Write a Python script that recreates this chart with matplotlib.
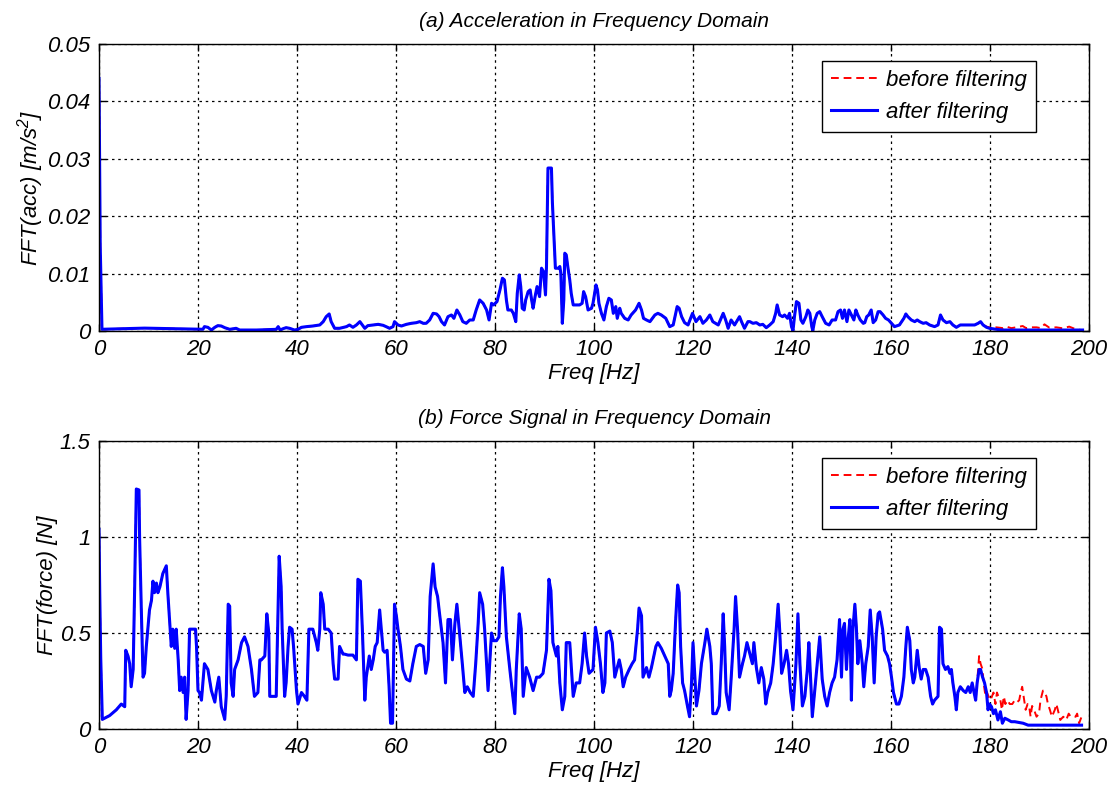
import numpy as np
import matplotlib
matplotlib.use("Agg")
import matplotlib.pyplot as plt

# (a) acceleration spectrum, after filtering -- values in 1e-3 m/s^2
acc_freq = [0.0, 0.25, 0.6, 9.2, 21.0, 21.3, 22.0, 22.7, 23.4, 24.0, 24.7, 25.4, 26.4, 27.7, 28.4,
            29.8, 31.8, 35.8, 36.2, 36.6, 37.2, 37.8, 38.5, 39.5, 40.2, 40.9, 41.9, 43.2, 44.6, 45.3,
            45.9, 46.5, 46.9, 47.6, 48.6, 50.0, 50.6, 51.3, 52.0, 52.7, 53.2, 53.7, 54.3, 55.4, 56.4,
            57.4, 58.0, 58.7, 59.4, 59.7, 60.4, 61.1, 62.1, 63.1, 64.1,
            64.8, 65.5, 66.1, 66.8, 67.5, 68.2, 68.7, 69.2, 69.8, 70.5, 71.2, 71.7, 72.3, 72.9, 73.5,
            74.2, 74.9, 75.6, 76.2, 76.9, 77.6, 78.3, 78.8, 79.3, 79.7, 80.4, 81.0, 81.5, 81.9, 82.3,
            82.6, 83.3, 83.7, 84.2, 84.5, 84.9, 85.2, 85.5, 85.9, 86.2, 86.7, 87.1, 87.4, 87.7, 88.1,
            88.5, 89.0, 89.4, 89.8, 90.2, 90.4, 90.7, 91.4, 91.6, 91.9, 92.2, 92.8, 93.1, 93.3, 93.6,
            93.9, 94.1, 94.4, 94.7, 95.1, 95.4, 95.8, 97.1, 97.6, 97.9, 98.3, 98.8, 99.5, 99.8, 100.4,
            100.7, 101.0, 101.5, 102.0, 102.5, 103.0, 103.5, 103.9, 104.4, 104.7, 105.2, 105.5, 106.2,
            106.9, 107.5, 108.4, 109.1, 109.6, 110.0, 110.6, 111.3, 112.3, 112.9, 113.6, 114.5, 115.3,
            116.0, 116.8, 117.2, 117.7, 118.3, 119.0, 119.9, 120.6, 121.4, 122.0, 122.7, 123.4, 124.0,
            125.1, 126.1, 126.6, 127.1, 127.7, 128.4, 129.4, 129.8, 130.4, 131.1,
            131.5, 132.1, 132.8, 133.5, 134.1, 134.8, 135.5, 136.2, 136.7, 137.0, 137.5, 138.1, 138.5,
            139.1, 139.5, 139.9, 140.2, 140.5, 140.9, 141.4, 141.8, 142.2, 142.8, 143.2, 143.6, 144.0,
            144.2, 144.6, 145.1, 145.6, 146.1, 146.8, 147.5, 148.1, 148.8, 149.3, 149.8, 150.2, 150.6,
            151.1, 151.5, 152.0, 152.5, 152.9, 153.3, 153.8, 154.4, 154.7, 155.1, 155.5, 156.0, 156.4,
            156.9, 157.4, 157.8, 158.4, 158.9, 159.5, 160.1, 160.7, 161.7, 162.6, 163.0, 163.4, 164.1,
            164.8, 165.3, 165.8, 166.5, 167.1, 167.8, 168.8, 169.5, 170.0, 170.5, 171.2, 171.9, 172.5,
            173.2, 174.0, 174.9, 175.9, 176.9, 177.6, 178.1, 178.6, 179.3, 179.9, 181.3, 182.6, 185.3,
            190.0, 195.4, 198.7]
acc_after = [44.0, 14.7, 0.3, 0.5, 0.3, 0.76, 0.64, 0.17, 0.64, 0.93, 0.87, 0.58, 0.29, 0.47, 0.17,
             0.17, 0.17, 0.29, 0.76, 0.17, 0.41, 0.58, 0.47, 0.17, 0.29, 0.64, 0.76, 0.87, 1.05, 1.63,
             2.5, 2.97, 1.63, 0.47, 0.47, 0.76, 1.05, 0.64, 1.05, 1.63, 1.05, 0.47, 0.93, 1.05, 1.16,
             0.99, 0.76, 0.47, 0.76, 1.63, 1.05, 0.87, 1.16, 1.34, 1.45,
             1.63, 1.34, 1.34, 1.92, 3.08, 2.97, 2.5, 1.63, 1.05, 2.5, 2.79, 2.21, 3.66, 2.79, 1.63,
             1.34, 1.92, 1.92, 3.66, 5.41, 4.83, 3.66, 1.92, 4.83, 4.54, 5.12, 7.16, 9.19, 8.9, 5.41,
             3.66, 3.66, 3.08, 1.63, 6.57, 9.77, 7.74, 3.96, 3.66, 5.41, 6.86, 7.16, 5.41, 3.96, 5.99,
             7.74, 5.99, 10.94, 10.35, 6.28, 11.2, 28.39, 28.39, 22.28, 16.46, 10.94, 10.94, 11.23, 10.06, 1.34,
             5.41, 13.55, 13.26, 11.23, 8.9, 6.57, 4.54, 4.54, 4.83, 6.86, 5.99, 3.66, 3.96, 4.83, 8.03,
             7.16, 4.83, 3.08, 1.92, 4.25, 5.70, 5.41, 3.08, 4.25, 2.21, 3.96, 3.08, 2.21,
             1.92, 2.79, 3.66, 4.83, 3.66, 2.21, 1.92, 1.63, 2.79, 3.08, 2.79, 2.21, 0.76,
             1.05, 4.25, 3.96, 2.5, 1.45, 1.05, 3.08, 1.63, 2.5, 1.34, 1.92, 2.79, 1.63,
             1.05, 3.08, 1.92, 0.47, 1.92, 1.05, 2.5, 1.63, 0.47, 1.63,
             1.63, 1.34, 1.45, 1.05, 1.16, 0.58, 1.05, 1.63, 3.08, 4.54, 2.79, 2.5, 2.79,
             2.21, 3.08, 0.76, 0.06, 2.5, 5.12, 4.83, 1.92, 1.34, 2.5, 3.66, 3.08, 0.76,
             0.06, 1.92, 3.08, 3.37, 2.5, 1.34, 1.05, 1.92, 1.92, 3.37, 3.66, 2.21, 3.66,
             1.63, 3.66, 2.79, 1.92, 3.66, 2.79, 1.92, 1.34, 1.45, 2.5, 2.79, 3.66, 1.45,
             1.92, 3.37, 3.37, 2.79, 2.21, 1.92, 1.34, 0.76, 1.05, 2.21, 2.97, 2.5, 1.92,
             1.63, 1.92, 1.63, 1.34, 1.45, 1.05, 0.76, 1.05, 2.79, 1.92, 1.45, 1.63, 1.05,
             0.64, 1.05, 1.05, 1.05, 1.05, 1.34, 1.63, 1.05, 0.64, 0.47, 0.29, 0.17, 0.17,
             0.17, 0.17, 0.17]
# (a) before filtering differs only above ~178 Hz
acc_tail_freq = [178.6, 179.3, 179.9, 181.3, 182.6, 183.3, 184.3, 185.3, 186.6, 187.3, 188.0, 189.4,
                 190.3, 191.0, 192.0, 193.4, 194.7, 196.0, 197.4, 198.4]
acc_tail_before = [1.05, 0.76, 0.64, 0.64, 0.5, 0.76, 0.5, 0.64, 0.87, 0.5, 0.64, 0.64,
                   0.5, 1.16, 0.58, 0.64, 0.47, 0.76, 0.29, 0.17]

# (b) force spectrum, after filtering -- values in N
force_freq = [0.0, 0.15, 0.35, 0.67, 2.15, 3.5, 4.5, 5.2, 5.4, 5.86, 6.2, 6.5, 6.9, 7.2, 7.54, 8.08,
              8.2, 8.55, 8.9, 9.2, 9.56, 9.9, 10.2, 10.6, 10.9, 11.2, 11.6, 11.9, 12.3, 12.9, 13.6,
              13.9, 14.3, 14.6, 14.9, 15.3, 15.6, 16.0, 16.3, 16.6, 17.0, 17.3, 17.6, 18.0, 18.3, 19.0,
              19.5, 19.7, 20.0, 20.3, 20.7, 21.3, 22.0, 22.7, 23.4, 23.7, 24.2, 24.7, 25.4, 25.7, 26.1,
              26.4, 26.7, 27.1, 27.4, 28.1, 28.8, 29.4, 30.1, 30.8, 31.4, 32.1, 32.5, 32.8, 33.5, 33.9,
              34.3, 34.5, 35.2, 35.8, 36.2, 36.4, 36.8, 37.0, 37.5, 37.8, 38.2, 38.5, 39.0, 39.3, 39.9,
              40.2, 40.9, 41.5, 42.0, 42.4, 43.2, 43.9, 44.2, 44.6, 44.8, 45.3, 45.6, 46.3, 46.9, 47.3,
              47.6, 48.3, 48.6, 49.3,
              49.6, 50.3, 51.3, 52.0, 52.3, 52.8, 53.2, 53.7, 54.0, 54.6, 55.0, 55.4, 55.8, 56.2, 56.7,
              57.0, 57.4, 57.7, 58.2, 58.6, 58.9, 59.3, 59.5, 59.7, 60.1, 60.4, 60.9, 61.4, 62.1, 62.8,
              63.4, 64.1, 64.8, 65.5, 66.0, 66.5, 66.9, 67.5, 67.9, 68.4, 68.8, 69.5, 70.0, 70.5, 71.0,
              71.4, 71.9, 72.3, 72.9, 73.4, 73.9, 74.4, 75.0, 75.6, 76.1, 76.6, 76.9, 77.5, 77.9, 78.6,
              79.3, 79.7, 80.3, 80.8, 81.1, 81.5, 81.8, 82.3, 83.0, 83.6, 84.0, 84.3, 84.9, 85.3, 85.7,
              86.3, 87.0, 87.7, 88.4, 89.0, 89.7, 90.4, 90.9, 91.3, 91.7, 92.4, 92.7, 93.1, 93.6, 94.1,
              94.4, 95.1, 95.8, 96.4, 97.1, 97.6, 98.1, 98.5, 99.0, 99.8,
              100.3, 100.8, 101.3, 101.8, 102.2, 102.5, 103.2, 103.7, 104.2, 104.7, 105.1, 105.5, 105.9,
              106.4, 107.1, 107.7, 108.2, 108.8, 109.1, 109.6, 109.9, 110.6, 111.1, 111.6, 112.1, 112.5,
              112.9, 113.6, 114.3, 115.0, 115.3, 115.6, 116.0, 116.5, 116.9, 117.2, 117.5, 117.9, 118.3,
              118.8, 119.3, 119.7, 120.0, 120.3, 120.7, 121.2, 121.7, 122.4, 122.8, 123.4, 123.7, 124.0,
              124.7, 125.3, 125.7, 126.1, 126.4, 126.7, 127.3, 127.7, 128.3, 128.6, 129.0, 129.4, 130.0,
              130.4, 130.9, 131.5, 132.0, 132.3, 132.8, 133.3, 133.8, 134.3, 134.7, 135.1, 135.7, 136.2,
              136.7, 137.2, 137.5, 137.9, 138.4, 138.9, 139.3, 139.7, 140.2, 140.8, 141.2, 141.6, 142.1,
              142.6, 143.1, 143.4, 143.8, 144.1, 144.6, 145.1, 145.6, 146.1, 146.6, 147.1, 147.6, 148.1,
              148.6, 149.1, 149.6,
              150.0, 150.3, 150.6, 151.0, 151.3, 151.7, 152.0, 152.3, 152.7, 153.0, 153.3, 153.7, 154.2,
              154.5, 154.9, 155.4, 155.8, 156.2, 156.6, 157.0, 157.4, 157.7, 158.3, 158.7, 159.3, 159.7,
              160.1, 160.5, 161.1, 161.6, 162.1, 162.6, 163.0, 163.3, 163.8, 164.1, 164.5, 164.8, 165.3,
              165.7, 166.1, 166.5, 167.0, 167.5, 168.0, 168.4, 168.8, 169.5, 169.8, 170.2, 170.5, 171.0,
              171.5, 171.9, 172.2, 172.5, 172.9, 173.2, 173.5, 174.0, 174.6, 175.1, 175.6, 176.0, 176.4,
              176.7, 177.1, 177.4, 177.8, 178.1, 178.5, 178.9, 179.3, 179.6, 179.9, 180.3, 180.7, 181.1,
              181.6, 182.1, 182.5, 183.0, 183.7, 184.3, 185.0, 186.0, 186.7, 187.7, 190.0, 193.4, 196.8,
              198.5]
force_after = [1.04, 0.71, 0.37, 0.05, 0.07, 0.10, 0.13, 0.116, 0.41, 0.38, 0.34, 0.22, 0.31, 0.73, 1.25, 1.245,
               1.0, 0.62, 0.27, 0.29, 0.43, 0.53, 0.62, 0.67, 0.77, 0.71, 0.76, 0.71, 0.74, 0.81, 0.85,
               0.71, 0.55, 0.43, 0.52, 0.42, 0.52, 0.36, 0.20, 0.27, 0.19, 0.27, 0.05, 0.20, 0.52, 0.52,
               0.52, 0.43, 0.20, 0.19, 0.15, 0.34, 0.31, 0.20, 0.14, 0.20, 0.27, 0.116, 0.05, 0.17, 0.65,
               0.64, 0.24, 0.17, 0.31, 0.36, 0.45, 0.48, 0.43, 0.31, 0.17, 0.19, 0.36, 0.36, 0.38, 0.60,
               0.50, 0.17, 0.17, 0.17, 0.65, 0.90, 0.74, 0.52, 0.17, 0.24, 0.43, 0.53, 0.52, 0.43, 0.20,
               0.13, 0.19, 0.17, 0.15, 0.52, 0.52, 0.45, 0.41, 0.52, 0.71, 0.65, 0.52, 0.52, 0.50, 0.34,
               0.26, 0.26, 0.43, 0.39,
               0.39, 0.385, 0.385, 0.36, 0.78, 0.77, 0.52, 0.15, 0.27, 0.38, 0.31, 0.36, 0.43, 0.45, 0.62,
               0.53, 0.41, 0.40, 0.41, 0.22, 0.03, 0.03, 0.34, 0.65, 0.585, 0.52, 0.43, 0.31, 0.26, 0.25,
               0.34, 0.43, 0.44, 0.43, 0.29, 0.36, 0.69, 0.86, 0.74, 0.69, 0.60, 0.45, 0.24, 0.57, 0.57,
               0.36, 0.55, 0.65, 0.48, 0.34, 0.19, 0.22, 0.19, 0.17, 0.34, 0.55, 0.71, 0.65, 0.52, 0.20,
               0.50, 0.46, 0.46, 0.48, 0.69, 0.84, 0.74, 0.48, 0.31, 0.17, 0.08, 0.31, 0.60, 0.52, 0.17,
               0.32, 0.27, 0.20, 0.27, 0.27, 0.29, 0.41, 0.78, 0.72, 0.45, 0.38, 0.43, 0.24, 0.10, 0.17,
               0.45, 0.45, 0.17, 0.24, 0.24, 0.34, 0.50, 0.38, 0.29, 0.31,
               0.53, 0.45, 0.34, 0.19, 0.24, 0.50, 0.51, 0.45, 0.27, 0.32, 0.36, 0.31, 0.22,
               0.27, 0.31, 0.34, 0.36, 0.52, 0.63, 0.59, 0.27, 0.32, 0.27, 0.32, 0.38, 0.43,
               0.45, 0.42, 0.38, 0.34, 0.17, 0.20, 0.29, 0.57, 0.75, 0.71, 0.43, 0.24, 0.20,
               0.13, 0.064, 0.24, 0.45, 0.31, 0.12, 0.20, 0.34, 0.45, 0.52, 0.43, 0.34, 0.08,
               0.08, 0.12, 0.34, 0.60, 0.43, 0.19, 0.10, 0.26, 0.52, 0.69, 0.52, 0.27, 0.34,
               0.38, 0.45, 0.39, 0.34, 0.45, 0.32, 0.24, 0.32, 0.26, 0.13, 0.19, 0.24, 0.34,
               0.48, 0.65, 0.52, 0.29, 0.34, 0.41, 0.34, 0.20, 0.10, 0.34, 0.60, 0.34, 0.12,
               0.17, 0.31, 0.45, 0.24, 0.064, 0.20, 0.34, 0.48, 0.26, 0.17, 0.12, 0.19, 0.24,
               0.27, 0.36, 0.57,
               0.27, 0.52, 0.55, 0.31, 0.46, 0.57, 0.15, 0.52, 0.65, 0.53, 0.34, 0.46, 0.34,
               0.22, 0.34, 0.43, 0.62, 0.48, 0.24, 0.48, 0.60, 0.61, 0.52, 0.41, 0.38, 0.34,
               0.27, 0.19, 0.13, 0.13, 0.17, 0.27, 0.43, 0.53, 0.46, 0.31, 0.24, 0.27, 0.41,
               0.32, 0.26, 0.31, 0.31, 0.27, 0.17, 0.13, 0.15, 0.17, 0.53, 0.52, 0.34, 0.31,
               0.325, 0.29, 0.31, 0.24, 0.17, 0.10, 0.19, 0.22, 0.20, 0.19, 0.22, 0.19, 0.24,
               0.20, 0.15, 0.24, 0.31, 0.31, 0.27, 0.24, 0.19, 0.10, 0.13, 0.116, 0.08, 0.10,
               0.047, 0.09, 0.03, 0.056, 0.047, 0.038, 0.038, 0.033, 0.03, 0.02, 0.02, 0.02, 0.02,
               0.02]
# (b) before filtering differs only above ~177 Hz
force_tail_freq = [177.4, 177.8, 178.1, 178.5, 178.7, 179.1, 179.4, 179.7, 180.1, 180.4, 180.7, 181.1,
                   181.4, 181.7, 182.1, 182.4, 182.8, 183.1, 183.5, 184.0, 184.5, 185.0, 185.5, 185.9,
                   186.2, 186.5, 186.9, 187.2, 187.6, 187.9, 188.2, 188.5, 188.9, 189.4, 189.9, 190.2,
                   190.7, 191.0, 191.4, 191.7, 192.1, 192.5, 193.1, 193.4, 193.7, 194.2, 194.8, 195.4,
                   195.9, 196.3, 196.8, 197.3, 197.6, 198.0, 198.5, 198.8]
force_tail_before = [0.24, 0.38, 0.34, 0.31, 0.24, 0.17, 0.19, 0.17, 0.15, 0.17, 0.19, 0.13,
                     0.19, 0.17, 0.15, 0.10, 0.17, 0.13, 0.15, 0.13, 0.13, 0.15, 0.14, 0.15,
                     0.19, 0.22, 0.15, 0.10, 0.13, 0.12, 0.064, 0.12, 0.10, 0.064, 0.08, 0.15,
                     0.20, 0.19, 0.17, 0.13, 0.10, 0.064, 0.10, 0.13, 0.10, 0.047, 0.064, 0.047,
                     0.08, 0.064, 0.064, 0.064, 0.08, 0.03, 0.064, 0.047]


def join_tail(freq, vals, tail_freq, tail_vals):
    # before-filtering curve = after-filtering curve with its own high-freq tail
    freq = np.asarray(freq)
    keep = freq < tail_freq[0]
    return (np.concatenate([freq[keep], tail_freq]),
            np.concatenate([np.asarray(vals)[keep], tail_vals]))


plt.rcParams['font.family'] = 'Liberation Sans'
plt.rcParams['font.style'] = 'italic'
plt.rcParams['mathtext.fontset'] = 'custom'
plt.rcParams['mathtext.rm'] = 'Liberation Sans:italic'
plt.rcParams['mathtext.it'] = 'Liberation Sans:italic'

fig = plt.figure(figsize=(11.15, 7.87), dpi=100)
ax1 = fig.add_axes([99 / 1115, 1 - 331 / 787, 990 / 1115, 287 / 787])
ax2 = fig.add_axes([99 / 1115, 1 - 729 / 787, 990 / 1115, 288 / 787])


def draw(ax, f_b, v_b, f_a, v_a, ylim, yticks, yticklabels, ylabel, title):
    ax.plot(f_b, v_b, color='#ff0000', linestyle=(0, (4, 2.5)), linewidth=1.4,
            label='before filtering')
    ax.plot(f_a, v_a, color='#0000ff', linestyle='-', linewidth=2.2, label='after filtering')
    ax.set_xlim(0, 200)
    ax.set_ylim(*ylim)
    ax.set_xticks(np.arange(0, 201, 20))
    ax.set_yticks(yticks)
    ax.set_yticklabels(yticklabels)
    ax.grid(True, color='black', linestyle=(0, (2, 3)), linewidth=0.9)
    ax.tick_params(direction='in', top=True, right=True, length=5, width=1,
                   labelsize=16, pad=6)
    for s in ax.spines.values():
        s.set_linewidth(1.0)
    ax.set_xlabel('Freq [Hz]', fontsize=16, labelpad=2)
    ax.set_ylabel(ylabel, fontsize=16, labelpad=1)
    ax.set_title(title, fontsize=15, pad=12)
    leg = ax.legend(loc='upper right', bbox_to_anchor=((1036 - 99) / 990, 1 - 17 / 288),
                    borderaxespad=0, fontsize=16, fancybox=False, framealpha=1,
                    edgecolor='black', handlelength=2.1, handletextpad=0.4,
                    labelspacing=0.5, borderpad=0.4)
    leg.get_frame().set_linewidth(1.0)


acc_fb, acc_vb = join_tail(acc_freq, acc_after, acc_tail_freq, acc_tail_before)
draw(ax1, acc_fb, np.asarray(acc_vb) * 1e-3, acc_freq, np.asarray(acc_after) * 1e-3,
     (0, 0.05), [0, 0.01, 0.02, 0.03, 0.04, 0.05], ['0', '0.01', '0.02', '0.03', '0.04', '0.05'],
     'FFT(acc) [m/s$^{2}$]', '(a) Acceleration in Frequency Domain')

force_fb, force_vb = join_tail(force_freq, force_after, force_tail_freq, force_tail_before)
draw(ax2, force_fb, force_vb, force_freq, force_after,
     (0, 1.5), [0, 0.5, 1, 1.5], ['0', '0.5', '1', '1.5'],
     'FFT(force) [N]', '(b) Force Signal in Frequency Domain')

fig.savefig('out.png', dpi=100)
